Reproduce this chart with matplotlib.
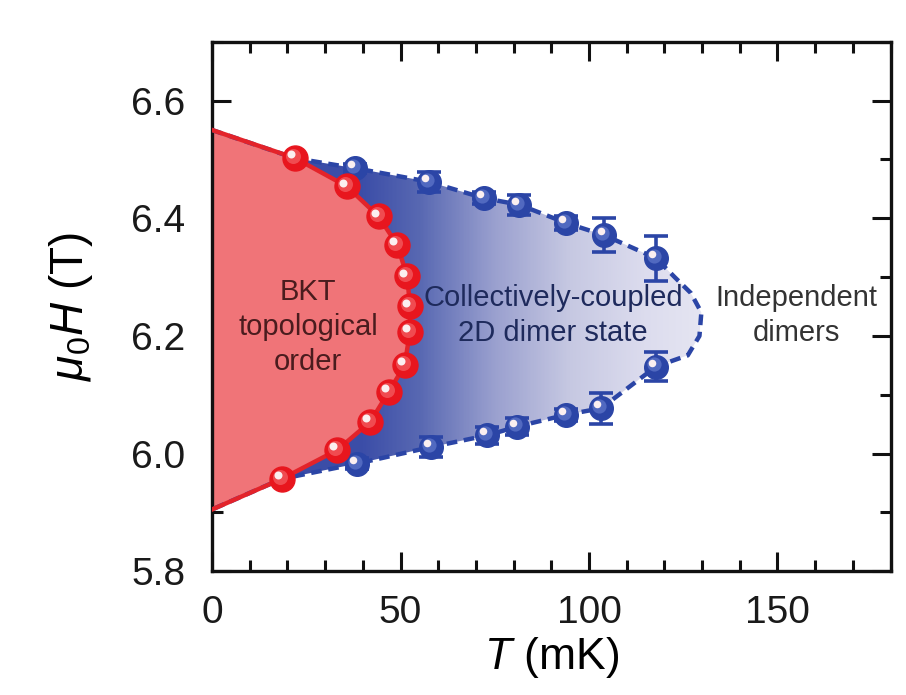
import numpy as np
import matplotlib
matplotlib.use("Agg")
import matplotlib.pyplot as plt
from matplotlib.patches import Polygon
from matplotlib.colors import LinearSegmentedColormap
from matplotlib.ticker import MultipleLocator
import matplotlib.transforms as mtransforms

plt.rcParams['font.family'] = ['Liberation Sans', 'DejaVu Sans']
plt.rcParams['mathtext.fontset'] = 'custom'
plt.rcParams['mathtext.rm'] = 'Liberation Sans'
plt.rcParams['mathtext.it'] = 'Liberation Sans:italic'

# BKT points (red)
bkt_T = [22.1, 35.8, 44.2, 49.1, 51.8, 52.5, 52.5, 51.1, 46.9, 42.0, 33.2, 18.5]
bkt_H = [6.502, 6.454, 6.403, 6.355, 6.301, 6.250, 6.207, 6.150, 6.105, 6.054, 6.006, 5.957]
# red boundary ends on the H axis
bkt_H0_top = 6.55
bkt_H0_bot = 5.905

# collectively coupled dimer points (blue)
dim_T = [38.0, 57.5, 72.2, 81.5, 93.9, 104.1, 117.8,
         38.5, 58.0, 73.0, 81.0, 93.9, 103.2, 117.8]
dim_H = [6.485, 6.462, 6.434, 6.423, 6.392, 6.371, 6.332,
         5.983, 6.011, 6.031, 6.046, 6.066, 6.077, 6.148]
dim_err = [0.008, 0.017, 0.010, 0.017, 0.012, 0.029, 0.038,
           0.010, 0.017, 0.015, 0.015, 0.010, 0.026, 0.024]

# dashed outline of the blue dome
dome_T = [0, 22, 38.0, 57.5, 72.2, 81.5, 93.9, 104.1, 117.8, 122.7, 127.0, 129.8,
          129.3, 126.2, 117.8, 103.2, 93.9, 81.0, 73.0, 58.0, 38.5, 18.5, 0]
dome_H = [6.55, 6.502, 6.485, 6.462, 6.434, 6.423, 6.392, 6.371, 6.332, 6.300, 6.273, 6.240,
          6.200, 6.167, 6.148, 6.077, 6.066, 6.046, 6.031, 6.011, 5.983, 5.957, 5.905]

# gradient of the blue region along T
grad_T = [0, 40, 55, 75, 95, 115, 135]
grad_col = ['#3A4BA6', '#3C4EA8', '#5868B2', '#9AA0CF', '#C6C8E2', '#DCDCEE', '#E8E8F3']

red_fill = '#F07478'
red_line = '#E3232A'
red_mark = '#E8161E'
blue_mark = '#2B45A6'

fig = plt.figure(figsize=(9.06, 6.95), dpi=100)
ax = fig.add_axes([0.234, 0.178, 0.749, 0.762])

# blue gradient clipped to the dome
cmap = LinearSegmentedColormap.from_list(
    'dome', list(zip(np.array(grad_T) / grad_T[-1], grad_col)))
grad = np.linspace(0, 1, 400).reshape(1, -1)
im = ax.imshow(grad, cmap=cmap, aspect='auto', extent=[0, grad_T[-1], 5.85, 6.6],
               origin='lower', zorder=1, interpolation='bilinear')
dome = Polygon(np.column_stack([dome_T, dome_H]), closed=True, facecolor='none',
               edgecolor='none', transform=ax.transData)
ax.add_patch(dome)
im.set_clip_path(dome)

ax.plot(dome_T, dome_H, ls=(0, (2.4, 1.5)), color=blue_mark, lw=3.2, zorder=3)

# red region
red_T = [0] + bkt_T + [0]
red_H = [bkt_H0_top] + bkt_H + [bkt_H0_bot]
ax.add_patch(Polygon(np.column_stack([red_T, red_H]), closed=True,
                     facecolor=red_fill, edgecolor='none', zorder=2))
ax.plot(red_T, red_H, color=red_line, lw=3.2, zorder=4)

# blue spheres with error bars
ax.errorbar(dim_T, dim_H, yerr=dim_err, fmt='none', ecolor=blue_mark,
            elinewidth=2.6, capsize=8.5, capthick=2.6, zorder=5)


def spheres(x, y, base, mid, size, z):
    ax.plot(x, y, 'o', ms=size, color=base, mec=base, zorder=z)
    t1 = mtransforms.offset_copy(ax.transData, fig=fig, x=-1.5, y=1.5, units='points')
    ax.plot(x, y, 'o', ms=size * 0.6, color=mid, mec='none', alpha=0.55,
            transform=t1, zorder=z)
    t2 = mtransforms.offset_copy(ax.transData, fig=fig, x=-2.8, y=2.8, units='points')
    ax.plot(x, y, 'o', ms=size * 0.32, color='#FBEFF0', mec='none', transform=t2,
            zorder=z)


spheres(dim_T, dim_H, blue_mark, '#7288D6', 17, 6)
spheres(bkt_T, bkt_H, red_mark, '#F7777B', 18, 7)

# region labels
ax.text(25.5, 6.215, 'BKT\ntopological\norder', ha='center', va='center',
        fontsize=21, color='#4A1C1E', linespacing=1.3, zorder=8)
ax.text(90.5, 6.235, 'Collectively-coupled\n2D dimer state', ha='center', va='center',
        fontsize=21, color='#1E2A5C', linespacing=1.3, zorder=8)
ax.text(155, 6.235, 'Independent\ndimers', ha='center', va='center',
        fontsize=21, color='#333333', linespacing=1.3, zorder=8)

ax.set_xlim(0, 180)
ax.set_ylim(5.8, 6.7)
ax.xaxis.set_major_locator(MultipleLocator(50))
ax.xaxis.set_minor_locator(MultipleLocator(10))
ax.yaxis.set_major_locator(MultipleLocator(0.2))
ax.yaxis.set_minor_locator(MultipleLocator(0.1))
ax.set_xticks([0, 50, 100, 150])
ax.set_yticks([5.8, 6.0, 6.2, 6.4, 6.6])
ax.set_yticklabels(['5.8', '6.0', '6.2', '6.4', '6.6'])
ax.tick_params(which='both', direction='in', top=True, right=True, width=2.2,
               labelsize=28, color='#111111', labelcolor='#1a1a1a')
ax.tick_params(which='major', length=14)
ax.tick_params(which='minor', length=8)
ax.tick_params(axis='x', which='major', pad=17)
ax.tick_params(axis='y', which='major', pad=19)
for s in ax.spines.values():
    s.set_linewidth(2.4)
    s.set_color('#111111')

ax.set_xlabel(r'$T$ (mK)', fontsize=32, labelpad=3)
ax.set_ylabel(r'$\mu_0H$ (T)', fontsize=33, labelpad=26)

fig.savefig('out.png', dpi=100)
